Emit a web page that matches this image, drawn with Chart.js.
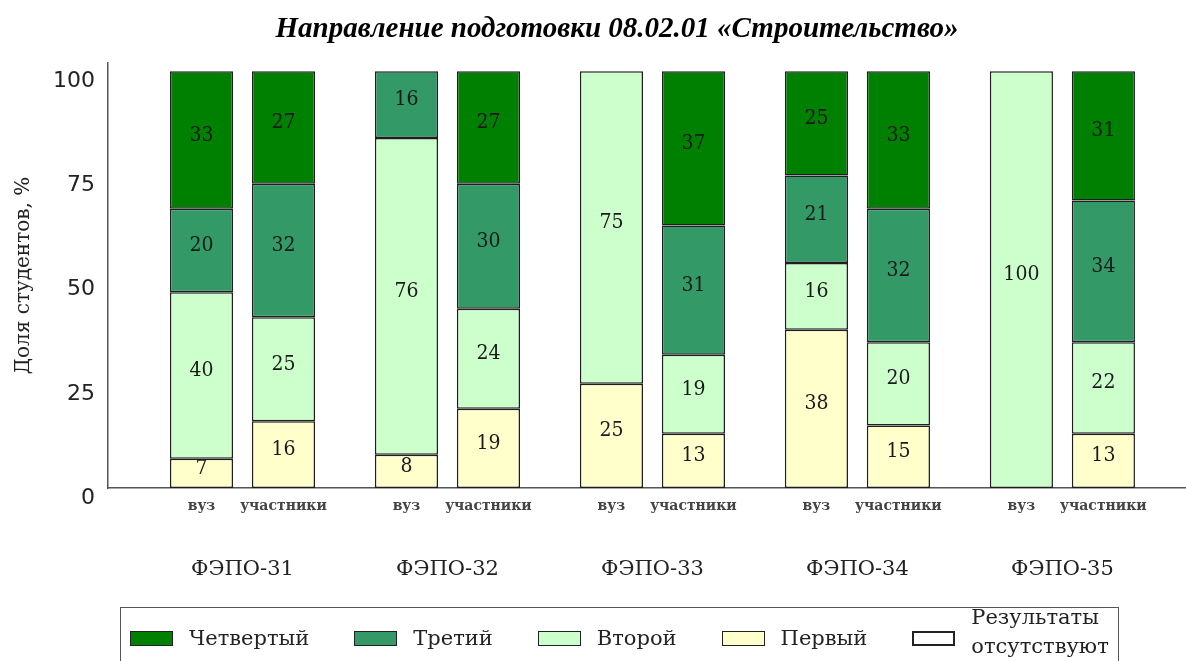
<!DOCTYPE html>
<html lang="ru">
<head>
<meta charset="utf-8">
<script src="https://cdn.jsdelivr.net/npm/chart.js@4.4.1/dist/chart.umd.min.js"></script>
<style>
  body { margin: 0; background: #fff; }
  #wrap { position: relative; width: 1186px; height: 661px; overflow: hidden; }
  #title {
    position: absolute; left: 617px; top: 11px; transform: translateX(-50%);
    font-family: "Liberation Serif", serif; font-weight: bold; font-style: italic;
    font-size: 29px; white-space: nowrap; color: #000;
  }
  #legend {
    position: absolute; left: 120px; top: 607px; width: 999px; height: 62px;
    border: 1.5px solid #555; box-sizing: border-box; padding-left: 9px;
    display: flex; align-items: center;
    font-family: "DejaVu Serif", serif; font-size: 21px; color: #222;
  }
  .item { display: flex; align-items: center; margin-right: 45px; }
  .sw { width: 43px; height: 15px; border: 1.5px solid #222; box-sizing: border-box; margin-right: 16px; }
  .multi { line-height: 29px; margin-top: -12px; }
</style>
</head>
<body>
<div id="wrap">
  <canvas id="chart"></canvas>
  <div id="title">Направление подготовки 08.02.01 «Строительство»</div>
  <div id="legend"></div>
</div>
<script>
var categories = ['ФЭПО-31', 'ФЭПО-32', 'ФЭПО-33', 'ФЭПО-34', 'ФЭПО-35'];
var stacks = ['вуз', 'участники'];
var levels = ['Первый', 'Второй', 'Третий', 'Четвертый'];
var levelColors = ['#ffffcc', '#ccffcc', '#339966', '#008000'];
var absentLabel = ['Результаты', 'отсутствуют'];

// вуз
var vuzFirst = [7, 8, 25, 38, 0];
var vuzSecond = [40, 76, 75, 16, 100];
var vuzThird = [20, 16, 0, 21, 0];
var vuzFourth = [33, 0, 0, 25, 0];
// участники
var uchFirst = [16, 19, 13, 15, 13];
var uchSecond = [25, 24, 19, 20, 22];
var uchThird = [32, 30, 31, 32, 34];
var uchFourth = [27, 27, 37, 33, 31];

var yTicks = [0, 25, 50, 75, 100];

var seriesByStack = [
    [vuzFirst, vuzSecond, vuzThird, vuzFourth],
    [uchFirst, uchSecond, uchThird, uchFourth]
];

var datasets = [];
for (var s = 0; s < stacks.length; s++) {
    for (var l = 0; l < levels.length; l++) {
        datasets.push({
            label: levels[l],
            stack: stacks[s],
            data: seriesByStack[s][l],
            backgroundColor: levelColors[l],
            borderColor: '#1e1e1e',
            borderWidth: 1.5,
            borderSkipped: false,
            categoryPercentage: 0.8,
            barPercentage: 0.77
        });
    }
}

/* legend (html) */
var legendEl = document.getElementById('legend');
for (var i = levels.length - 1; i >= 0; i--) {
    legendEl.insertAdjacentHTML('beforeend', "<div class='item'><span class='sw' style='background:" + levelColors[i] + "'></span><span>" + levels[i] + "</span></div>");
}
legendEl.insertAdjacentHTML('beforeend', "<div class='item'><span class='sw' style='background:#fff;border-width:2.5px'></span><span class='multi'>" + absentLabel.join('<br>') + "</span></div>");

/* values inside segments + вуз/участники under bars */
var barText = {
    id: 'barText',
    afterDatasetsDraw: function(chart) {
        var ctx = chart.ctx;
        ctx.save();
        ctx.textAlign = 'center';
        ctx.textBaseline = 'middle';
        chart.data.datasets.forEach(function(ds, di) {
            var meta = chart.getDatasetMeta(di);
            ctx.font = '21px "DejaVu Serif Condensed", "DejaVu Serif", serif';
            ctx.fillStyle = '#1a1a1a';
            meta.data.forEach(function(bar, j) {
                var v = ds.data[j];
                if (!v) return;
                ctx.fillText(String(v), bar.x, (bar.y + bar.base) / 2 - 5);
            });
            if (di % levels.length === 0) {
                ctx.font = 'bold 14px "DejaVu Serif", serif';
                ctx.fillStyle = '#444';
                meta.data.forEach(function(bar) {
                    ctx.fillText(ds.stack, bar.x, chart.chartArea.bottom + 18);
                });
            }
        });
        ctx.restore();
    }
};

var ctx = document.getElementById('chart').getContext('2d');
var chart = new Chart(ctx, {
    type: 'bar',
    data: { labels: categories, datasets: datasets },
    options: {
        responsive: true,
        maintainAspectRatio: false,
        animation: false,
        layout: { padding: { top: 63, left: 0, right: 0, bottom: 0 } },
        plugins: {
            legend: { display: false },
            tooltip: { enabled: false }
        },
        scales: {
            x: {
                stacked: true,
                grid: { display: false, drawTicks: false },
                border: { display: true, color: '#555', width: 1.5 },
                ticks: {
                    autoSkip: false,
                    maxRotation: 0,
                    padding: 69,
                    color: '#222',
                    font: { family: '"DejaVu Serif", serif', size: 21 }
                },
                afterBuildTicks: function(scale) {
                    // groups sit a bit right of the y axis, like the original
                    scale._startValue = -0.656;
                    scale._valueRange = 5.259;
                },
                afterFit: function(scale) { scale.height = 173; }
            },
            y: {
                stacked: true,
                min: 0,
                max: 102,
                grid: { display: false, drawTicks: false },
                border: { display: true, color: '#555', width: 1.5 },
                ticks: {
                    stepSize: 25,
                    includeBounds: false,
                    padding: 13,
                    labelOffset: 10,
                    color: '#222',
                    font: { family: '"DejaVu Sans", sans-serif', size: 22 },
                    callback: function(v) { return yTicks.indexOf(v) >= 0 ? v : ''; }
                },
                title: {
                    display: true,
                    text: 'Доля студентов, %',
                    color: '#222',
                    font: { family: '"DejaVu Serif", serif', size: 20 },
                    padding: { top: 12, bottom: 0 }
                },
                afterFit: function(scale) { scale.width = 108; }
            }
        }
    },
    plugins: [barText]
});
</script>
</body>
</html>
